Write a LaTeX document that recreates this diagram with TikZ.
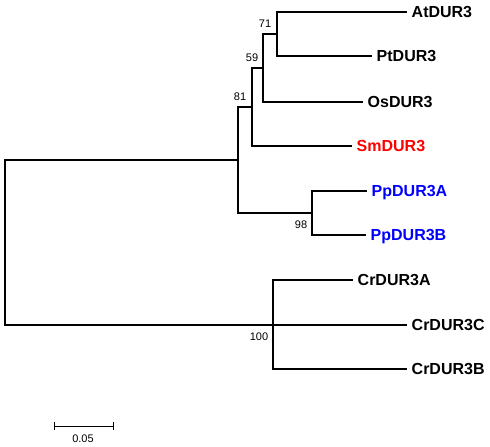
\documentclass[tikz,border=0pt]{standalone}
\usepackage{fontspec}
\setmainfont{Liberation Sans}
\begin{document}
\begin{tikzpicture}[x=1pt,y=-1pt,
  branch/.style={line width=2pt, line join=miter},
  leaf/.style={anchor=base west, xshift=4.5pt, yshift=-5.7pt, inner sep=0pt,
    font=\fontsize{16}{18}\selectfont\bfseries},
  boot/.style={inner sep=0pt, font=\fontsize{11}{13}\selectfont},
  scalebar/.style={line width=1pt}
]
\useasboundingbox (0,0) rectangle (490,447);
% leaf ends
\coordinate (At) at (407,12);
\coordinate (Pt) at (372,56);
\coordinate (Os) at (363,102);
\coordinate (Sm) at (352,146);
\coordinate (PpA) at (367,191);
\coordinate (PpB) at (366,235);
\coordinate (CrA) at (353,280);
\coordinate (CrC) at (407,325);
\coordinate (CrB) at (407,369);
% internal nodes
\coordinate (nC) at (277,34);
\coordinate (nB) at (263,68);
\coordinate (nA) at (252,107);
\coordinate (nPp) at (312,213);
\coordinate (n81) at (238,160);
\coordinate (n100) at (273,325);
\coordinate (root) at (5,242.5);
% branches
\draw[branch] (root) |- (n81);
\draw[branch] (root) |- (n100);
\draw[branch] (n81) |- (nA);
\draw[branch] (n81) |- (nPp);
\draw[branch] (nA) |- (nB);
\draw[branch] (nA) |- (Sm);
\draw[branch] (nB) |- (nC);
\draw[branch] (nB) |- (Os);
\draw[branch] (nC) |- (At);
\draw[branch] (nC) |- (Pt);
\draw[branch] (nPp) |- (PpA);
\draw[branch] (nPp) |- (PpB);
\draw[branch] (n100) |- (CrA);
\draw[branch] (n100) |- (CrB);
\draw[branch] (n100) -- (CrC);
% leaf labels
\node[leaf] (lAt) at (At) {AtDUR3};
\node[leaf] (lPt) at (Pt) {PtDUR3};
\node[leaf] (lOs) at (Os) {OsDUR3};
\node[leaf, text=red] (lSm) at (Sm) {SmDUR3};
\node[leaf, text=blue] (lPpA) at (PpA) {PpDUR3A};
\node[leaf, text=blue] (lPpB) at (PpB) {PpDUR3B};
\node[leaf] (lCrA) at (CrA) {CrDUR3A};
\node[leaf] (lCrC) at (CrC) {CrDUR3C};
\node[leaf] (lCrB) at (CrB) {CrDUR3B};
% bootstrap values
\node[boot] (b71) at (265,24) {71};
\node[boot] (b59) at (252,58) {59};
\node[boot] (b81) at (240,97) {81};
\node[boot] (b98) at (301,225) {98};
\node[boot] (b100) at (259,337) {100};
% scale bar
\coordinate (sbL) at (54,426);
\coordinate (sbR) at (113,426);
\draw[scalebar] (sbL) -- (sbR);
\draw[scalebar] (sbL) ++(0,-4) -- ++(0,8);
\draw[scalebar] (sbR) ++(0,-4) -- ++(0,8);
\node[boot] (sbl) at (83,439) {0.05};
\end{tikzpicture}
\end{document}
